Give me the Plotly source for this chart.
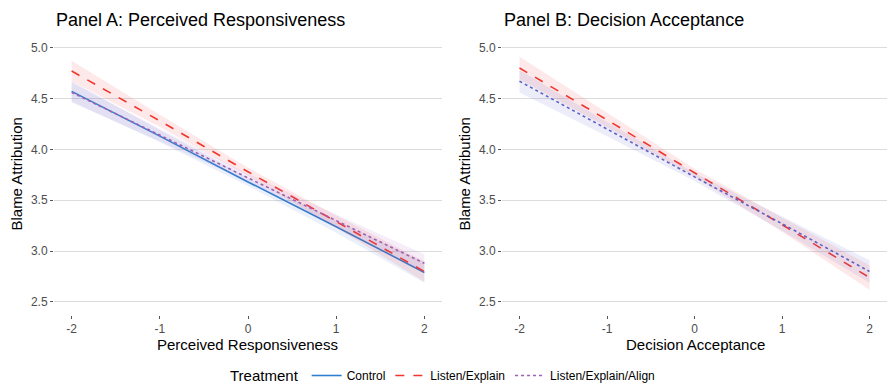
import plotly.graph_objects as go

x_vals = [-2, -1, 0, 1, 2]

# Panel A: Perceived Responsiveness
a_control = [4.57, 4.13, 3.68, 3.24, 2.79]
a_control_hw = [0.10, 0.06, 0.04, 0.06, 0.10]
a_listen = [4.77, 4.28, 3.78, 3.29, 2.80]
a_listen_hw = [0.10, 0.06, 0.04, 0.06, 0.10]
a_align = [4.56, 4.14, 3.72, 3.30, 2.88]
a_align_hw = [0.10, 0.06, 0.04, 0.06, 0.09]

# Panel B: Decision Acceptance
b_listen = [4.80, 4.29, 3.77, 3.26, 2.74]
b_listen_hw = [0.11, 0.07, 0.04, 0.07, 0.12]
b_align = [4.67, 4.20, 3.73, 3.27, 2.80]
b_align_hw = [0.11, 0.07, 0.04, 0.07, 0.11]

yticks = [2.5, 3.0, 3.5, 4.0, 4.5, 5.0]
ytick_text = ["2.5", "3.0", "3.5", "4.0", "4.5", "5.0"]
xticks = [-2, -1, 0, 1, 2]
xtick_text = ["-2", "-1", "0", "1", "2"]

names = ["Control", "Listen/Explain", "Listen/Explain/Align"]
colors = {"Control": "#2F7FD0", "Listen/Explain": "#F2362E", "Listen/Explain/Align": "#A060B0"}
fills = {"Control": "rgba(60,110,220,0.10)", "Listen/Explain": "rgba(240,70,70,0.12)",
         "Listen/Explain/Align": "rgba(160,90,190,0.10)"}
dashes = {"Control": "solid", "Listen/Explain": "dash", "Listen/Explain/Align": "dot"}

fig = go.Figure()


def add_series(name, y, hw, xa, ya, show, color=None, fill=None):
    c = color or colors[name]
    f = fill or fills[name]
    lo = [v - h for v, h in zip(y, hw)]
    hi = [v + h for v, h in zip(y, hw)]
    fig.add_trace(go.Scatter(x=x_vals + x_vals[::-1], y=hi + lo[::-1], mode="lines",
                             fill="toself", fillcolor=f, line=dict(width=0),
                             hoverinfo="skip", showlegend=False, xaxis=xa, yaxis=ya))
    fig.add_trace(go.Scatter(x=x_vals, y=y, mode="lines", name=name,
                             line=dict(color=c, width=1.6, dash=dashes[name]),
                             showlegend=show, xaxis=xa, yaxis=ya, legendgroup=name))


add_series("Control", a_control, a_control_hw, "x", "y", True)
add_series("Listen/Explain", a_listen, a_listen_hw, "x", "y", True)
add_series("Listen/Explain/Align", a_align, a_align_hw, "x", "y", True)
add_series("Listen/Explain", b_listen, b_listen_hw, "x2", "y2", False)
add_series("Listen/Explain/Align", b_align, b_align_hw, "x2", "y2", False,
           color="#5E62C4", fill="rgba(110,110,210,0.12)")

H = 391.0
W = 888.0
ydom = [(H - 315.5) / H, (H - 35) / H]
axis_common = dict(showline=False, zeroline=False, ticks="outside", ticklen=3, tickwidth=1,
                   tickcolor="#555555", tickfont=dict(size=12, color="#4D4D4D"))
xaxis_common = dict(axis_common, range=[-2.2, 2.2], tickvals=xticks, ticktext=xtick_text,
                    showgrid=False)
yaxis_common = dict(axis_common, range=[2.375, 5.125], tickvals=yticks, ticktext=ytick_text,
                    showgrid=True, gridcolor="#DCDCDC", gridwidth=1, domain=ydom)

fig.update_layout(
    width=888, height=391,
    margin=dict(l=0, r=0, t=0, b=0),
    paper_bgcolor="white", plot_bgcolor="white",
    font=dict(family="Liberation Sans, Arial, sans-serif", color="#000000"),
    xaxis=dict(xaxis_common, domain=[54 / W, 442 / W], anchor="y"),
    yaxis=dict(yaxis_common, anchor="x"),
    xaxis2=dict(xaxis_common, domain=[502 / W, 887 / W], anchor="y2"),
    yaxis2=dict(yaxis_common, anchor="x2"),
    legend=dict(orientation="h", x=0.5, xanchor="center", y=(H - 377) / H, yanchor="middle",
                title=dict(text="Treatment", font=dict(size=15)), font=dict(size=12),
                bgcolor="rgba(0,0,0,0)", itemwidth=30),
    showlegend=True,
)

annotations = [
    dict(text="Panel A: Perceived Responsiveness", x=54 / W, y=(H - 20) / H, xanchor="left",
         yanchor="middle", font=dict(size=18)),
    dict(text="Panel B: Decision Acceptance", x=502 / W, y=(H - 20) / H, xanchor="left",
         yanchor="middle", font=dict(size=18)),
    dict(text="Perceived Responsiveness", x=248 / W, y=(H - 345) / H, xanchor="center",
         yanchor="middle", font=dict(size=15)),
    dict(text="Decision Acceptance", x=695 / W, y=(H - 345) / H, xanchor="center",
         yanchor="middle", font=dict(size=15)),
    dict(text="Blame Attribution", x=17 / W, y=(H - 175) / H, xanchor="center",
         yanchor="middle", textangle=-90, font=dict(size=15)),
    dict(text="Blame Attribution", x=465 / W, y=(H - 175) / H, xanchor="center",
         yanchor="middle", textangle=-90, font=dict(size=15)),
]
for a in annotations:
    a.update(xref="paper", yref="paper", showarrow=False)
fig.update_layout(annotations=annotations)

fig.write_html("out.html")
